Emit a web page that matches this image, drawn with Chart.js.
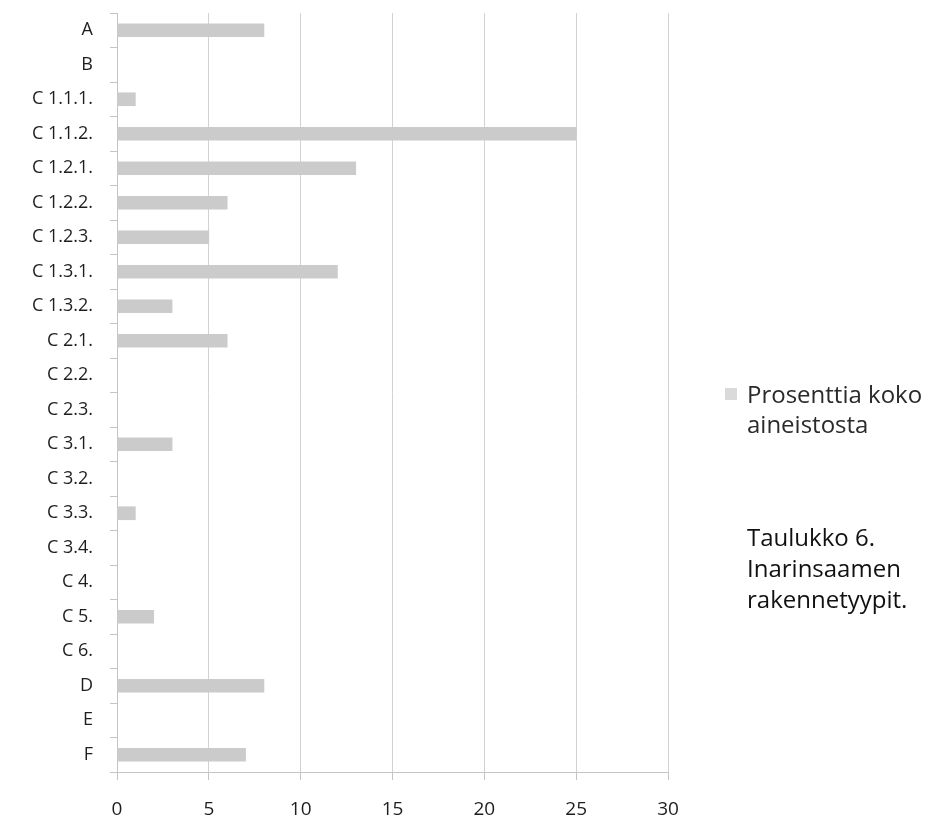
<!DOCTYPE html>
<html>
<head>
<meta charset="utf-8">
<script src="https://cdn.jsdelivr.net/npm/chart.js@4/dist/chart.umd.min.js"></script>
<style>
  html, body { margin: 0; padding: 0; background: #fff; }
  #wrap { position: relative; width: 927px; height: 824px; }
  #legend { position: absolute; left: 725px; top: 379px; font: 24px "Open Sans", sans-serif; color: #2a2a2a; line-height: 30px; white-space: nowrap; }
  #legend .box { position: absolute; left: 0; top: 9px; width: 12px; height: 12px; background: #dadada; }
  #legend .txt { margin-left: 22px; }
  #caption { position: absolute; left: 747px; top: 521px; font: 24px "Open Sans", sans-serif; color: #111; line-height: 31px; white-space: nowrap; }
</style>
</head>
<body>
<div id="wrap">
  <canvas id="chart1" width="927" height="824"></canvas>
  <div id="legend"><span class="box"></span><div class="txt">Prosenttia koko<br>aineistosta</div></div>
  <div id="caption">Taulukko 6.<br>Inarinsaamen<br>rakennetyypit.</div>
</div>
<script>
var categories = ['A', 'B', 'C 1.1.1.', 'C 1.1.2.', 'C 1.2.1.', 'C 1.2.2.', 'C 1.2.3.', 'C 1.3.1.', 'C 1.3.2.',
    'C 2.1.', 'C 2.2.', 'C 2.3.', 'C 3.1.', 'C 3.2.', 'C 3.3.', 'C 3.4.', 'C 4.', 'C 5.', 'C 6.', 'D', 'E', 'F'];
var percentValues = [8, 0, 1, 25, 13, 6, 5, 12, 3, 6, 0, 0, 3, 0, 1, 0, 0, 2, 0, 8, 0, 7];
var seriesName = 'Prosenttia koko aineistosta';
var xTicks = [0, 5, 10, 15, 20, 25, 30];

var ctx = document.getElementById('chart1');
var myChart = new Chart(ctx, {
    type: 'bar',
    data: {
        labels: categories,
        datasets: [{
            label: seriesName,
            data: percentValues,
            backgroundColor: '#cbcbcb',
            borderWidth: 0,
            barThickness: 13
        }]
    },
    options: {
        indexAxis: 'y',
        responsive: false,
        animation: false,
        layout: {
            padding: { top: 13, right: 259, bottom: 0, left: 0 }
        },
        plugins: {
            legend: { display: false },
            tooltip: { enabled: false }
        },
        scales: {
            x: {
                min: 0,
                max: 30,
                afterBuildTicks: function(scale) {
                    scale.ticks = xTicks.map(function(v) { return { value: v }; });
                },
                afterFit: function(scale) { scale.height = 52; },
                grid: {
                    color: '#d2d2d2',
                    lineWidth: 1,
                    drawTicks: true,
                    tickLength: 8,
                    tickColor: '#c4c4c4'
                },
                border: { color: '#c4c4c4' },
                ticks: {
                    padding: 18,
                    color: '#1e1e1e',
                    font: { family: 'Open Sans', size: 19 }
                }
            },
            y: {
                afterFit: function(scale) {
                    scale.width = 117;
                    scale.paddingTop = 0;
                    scale.paddingBottom = 0;
                },
                grid: {
                    offset: true,
                    drawOnChartArea: false,
                    drawTicks: true,
                    tickLength: 7,
                    tickColor: '#c4c4c4'
                },
                border: { color: '#c4c4c4' },
                ticks: {
                    padding: 17,
                    color: '#1e1e1e',
                    font: { family: 'Open Sans', size: 18 }
                }
            }
        }
    }
});
</script>
</body>
</html>
